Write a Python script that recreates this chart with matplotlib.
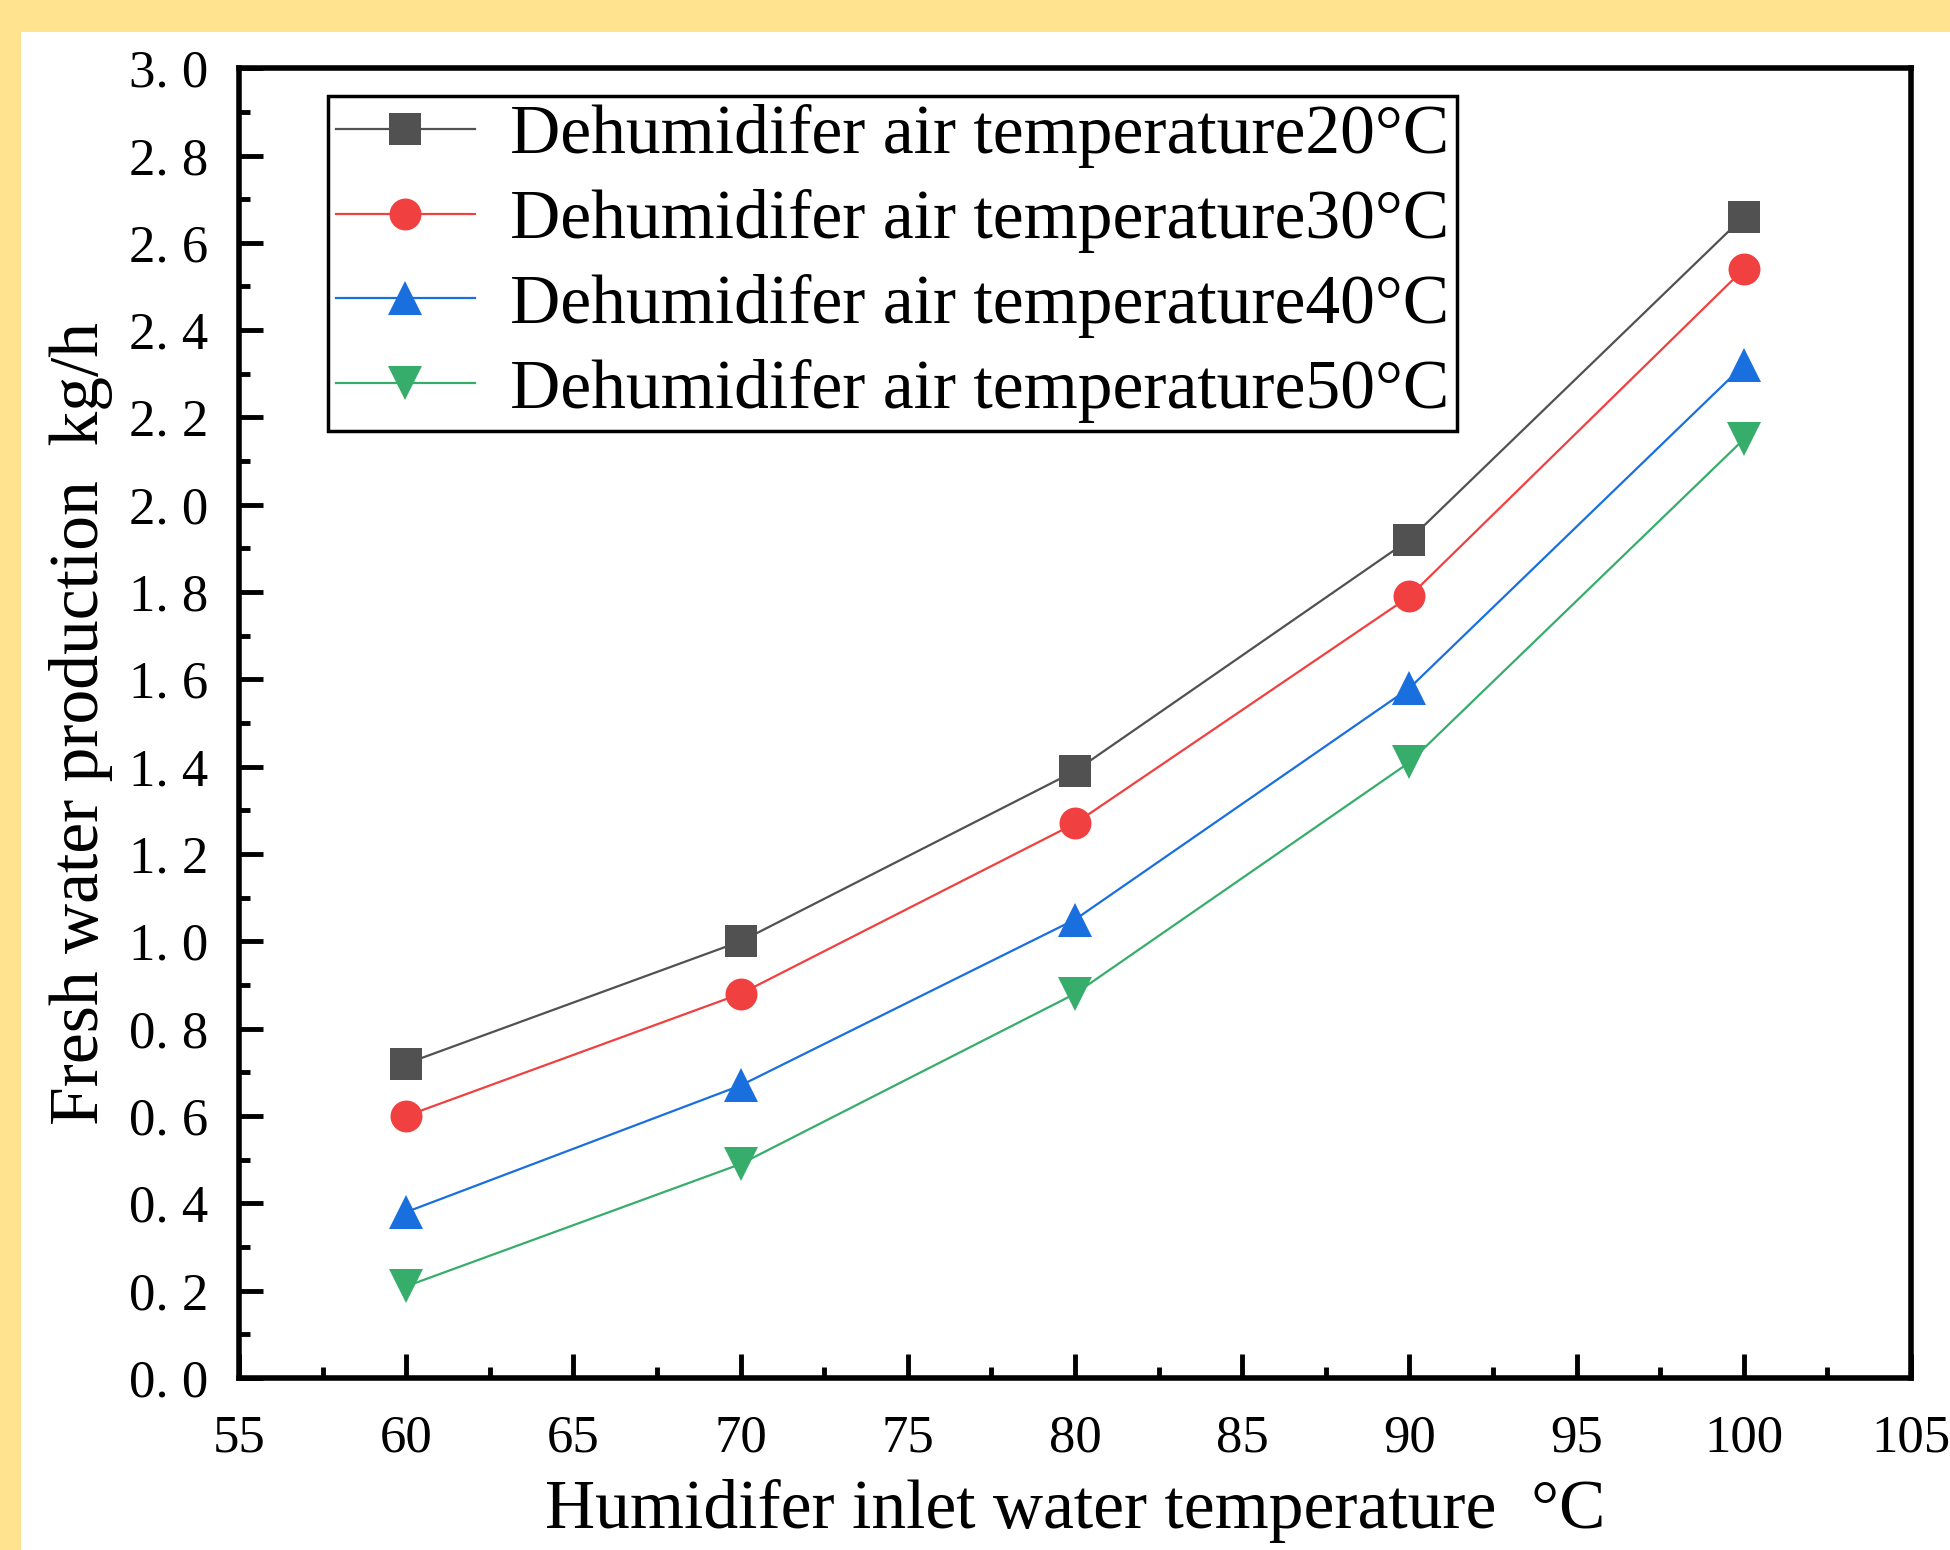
import matplotlib
matplotlib.use("Agg")
import matplotlib.pyplot as plt
from matplotlib.patches import Rectangle
from matplotlib.ticker import MultipleLocator, FuncFormatter

# Data
inlet_temp = [60, 70, 80, 90, 100]
prod_20 = [0.72, 1.00, 1.39, 1.92, 2.66]
prod_30 = [0.60, 0.88, 1.27, 1.79, 2.54]
prod_40 = [0.38, 0.67, 1.05, 1.58, 2.32]
prod_50 = [0.21, 0.49, 0.88, 1.41, 2.15]

series_labels = [
    "Dehumidifer air temperature20°C",
    "Dehumidifer air temperature30°C",
    "Dehumidifer air temperature40°C",
    "Dehumidifer air temperature50°C",
]
series_colors = ["#515151", "#F14040", "#1A6FDF", "#37AD6B"]
series_markers = ["s", "o", "^", "v"]

plt.rcParams["font.family"] = ["Liberation Serif", "DejaVu Serif"]

fig = plt.figure(figsize=(19.5, 15.5), dpi=100, facecolor="#FFE38E")
# white page inside the yellow border
fig.patches.append(Rectangle((21 / 1950, 0), 1, (1550 - 32) / 1550,
                             transform=fig.transFigure, facecolor="white",
                             edgecolor="none", zorder=-1))

ax = fig.add_axes([0.1226, 0.111, 0.8574, 0.845])
ax.set_facecolor("white")

all_series = [prod_20, prod_30, prod_40, prod_50]
for vals, lab, col, mk in zip(all_series, series_labels, series_colors, series_markers):
    ms = 23 if mk in ("s", "o") else 25
    ax.plot(inlet_temp, vals, color=col, marker=mk, markersize=ms,
            linewidth=1.6, label=lab, markeredgewidth=0)

ax.set_xlim(55, 105)
ax.set_ylim(0, 3.0)
ax.xaxis.set_major_locator(MultipleLocator(5))
ax.xaxis.set_minor_locator(MultipleLocator(2.5))
ax.yaxis.set_major_locator(MultipleLocator(0.2))
ax.yaxis.set_minor_locator(MultipleLocator(0.1))
ax.yaxis.set_major_formatter(FuncFormatter(lambda v, _: f"{v:.1f}".replace(".", ". ")))

for s in ax.spines.values():
    s.set_linewidth(4)
ax.tick_params(which="both", direction="in", top=False, right=False, width=3.5)
ax.tick_params(which="major", length=17)
ax.tick_params(which="minor", length=8)
ax.tick_params(axis="y", which="major", labelsize=38, pad=22)
ax.tick_params(axis="x", which="major", labelsize=38, pad=26)

ax.set_xlabel("Humidifer inlet water temperature  °C", fontsize=50, labelpad=12)
ax.set_ylabel("Fresh water production  kg/h", fontsize=50, labelpad=12)

leg = ax.legend(loc="upper left", bbox_to_anchor=(0.053, 0.979), fontsize=50,
                frameon=True, fancybox=False, edgecolor="black", framealpha=1,
                handlelength=2.0, handletextpad=0.5, labelspacing=0.30,
                borderpad=0.12, borderaxespad=0)
leg.get_frame().set_linewidth(2.5)

fig.savefig("out.png", dpi=100, facecolor=fig.get_facecolor())
